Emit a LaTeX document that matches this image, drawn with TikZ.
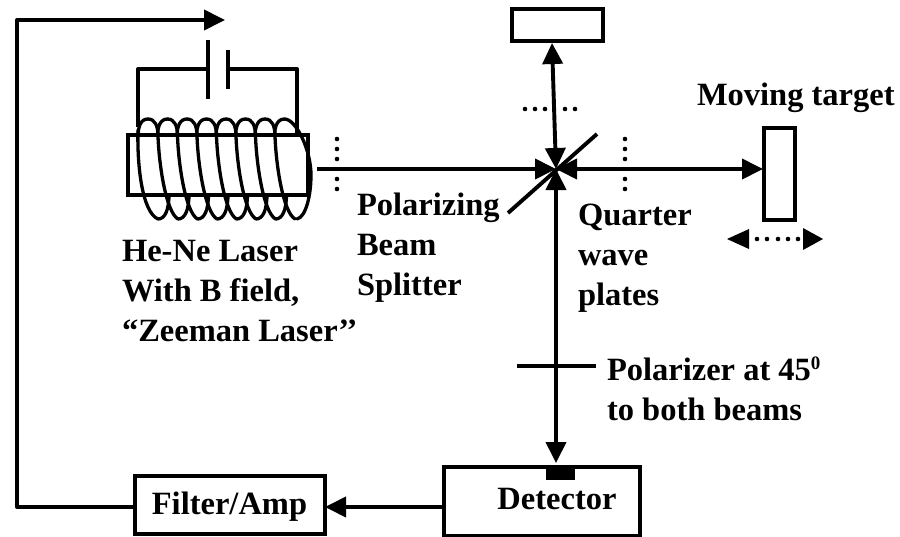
\documentclass[tikz,border=0pt]{standalone}
\usepackage{fontspec}
\setmainfont{Liberation Serif}
\usetikzlibrary{arrows.meta}
\tikzset{
  wire/.style={line width=3.9pt,line cap=butt,line join=round},
  coil/.style={line width=3.3pt,line cap=round},
  beam/.style={wire,-{Triangle[length=21pt,width=20pt]}},
  dbeam/.style={wire,{Triangle[length=21pt,width=20pt]}-{Triangle[length=21pt,width=20pt]}},
  box/.style={draw,line width=3.9pt,fill=white,inner sep=0pt,outer sep=0pt},
  lbl/.style={font=\fontsize{32.5}{40}\selectfont\bfseries,inner sep=0pt,outer sep=0pt,align=left,anchor=west},
  dot/.style={circle,fill=black,inner sep=0pt,minimum size=4.6pt}
}
\begin{document}
\begin{tikzpicture}[x=1pt,y=-1pt]
\useasboundingbox[fill=white] (0,0) rectangle (900,536);
% coil: parts behind the laser tube
\foreach \p in {148,167.5,187,206.5,226,245.5,265,284.5}
  \draw[coil] (\p-10,137) .. controls (\p-10,126) and (\p-7,119) .. (\p,119);
\foreach \q in {158,178,197.5,217,236.5,256,275.5}
  \draw[coil] (\q,219) .. controls (\q+7,219) and (\q+11,210) .. (\q+11,194);
% laser tube
\node[box,minimum width=180pt,minimum height=60pt] (laser) at (218,165) {};
% coil: parts in front of the tube
\draw[coil] (138,130) .. controls (137,165) and (142,212) .. (158,219);
\foreach \p in {148,167.5,187,206.5,226,245.5,265}
  \draw[coil] (\p,119) .. controls (\p+7,119) and (\p+10,126) .. (\p+10,136)
    .. controls (\p+11,165) and (\p+18,212) .. (\p+30,219);
\draw[coil] (284.5,119) .. controls (296,119) and (311,150) .. (311,175)
    .. controls (311,195) and (306,217) .. (297,219);
% battery circuit
\coordinate (wl) at (138,127);
\coordinate (wr) at (297,133);
\coordinate (pl) at (208,69);
\coordinate (pr) at (228,69);
\draw[wire] (wl) |- (pl);
\draw[wire] (wr) |- (pr);
\draw[wire] (208,40) -- (208,99);
\draw[wire] (228,50) -- (228,89);
% optics boxes
\node[box,minimum width=91pt,minimum height=32pt] (mirror) at (557.5,25) {};
\node[box,minimum width=31pt,minimum height=92pt] (target) at (779.5,174) {};
\node[box,minimum width=196pt,minimum height=69pt] (detector) at (542,501.5) {};
\node[box,minimum width=190pt,minimum height=58pt] (filter) at (230,505) {};
\node[fill=black,inner sep=0pt,minimum width=29pt,minimum height=13pt] (sensor) at (560.5,473.5) {};
\coordinate (c) at (556,169);
\coordinate (cin) at (317,169);
\coordinate (cup) at (552,43);
\coordinate (cdn) at (556,463);
\coordinate (tgt) at (763,169);
% beams
\draw[beam] (cin) -- (c);
\draw[dbeam] (c) -- (tgt);
\draw[dbeam] (c) -- (cdn);
\draw[dbeam] (c) -- (cup);
% splitter and polarizer
\coordinate (s1) at (508,213);
\coordinate (s2) at (597,134);
\draw[wire] (s1) -- (s2);
\coordinate (pa) at (517,366);
\coordinate (pb) at (596,366);
\draw[wire] (pa) -- (pb);
% quarter wave plates and motion
\foreach \y in {139,149,159,179,189} {
  \node[dot] at (337,\y) {};
  \node[dot] at (625,\y) {};
}
\foreach \x in {525,535,545,565,575} \node[dot] at (\x,109) {};
\fill (727,239) -- (749,229) -- (749,249) -- cycle;
\fill (823,239) -- (803,228) -- (803,250) -- cycle;
\foreach \x in {757,767,778,788,798} \node[dot] at (\x,239) {};
% signal path
\draw[beam] (detector.west |- 0,507) -- (filter.east |- 0,507);
\coordinate (fb) at (225,20);
\draw[beam] (filter.west |- 0,507) -| (17,20) -- (fb);
% text
\node[lbl] (tpbs) at (357,248) {Polarizing\\Beam\\Splitter};
\node[lbl] (tlaser) at (122,291) {He-Ne Laser\\With B field,\\“Zeeman Laser’’};
\node[lbl] (tqwp) at (578,258) {Quarter\\wave\\plates};
\node[lbl] (tmove) at (697,98) {Moving target};
\node[lbl] (tpol) at (607,389) {Polarizer at 45\raisebox{11pt}{\fontsize{19}{19}\selectfont 0}\\to both beams};
\node[lbl,anchor=center] (tdet) at (557,499) {Detector};
\node[lbl,anchor=center] (tfil) at (229.5,507) {Filter/Amp};
\end{tikzpicture}
\end{document}
